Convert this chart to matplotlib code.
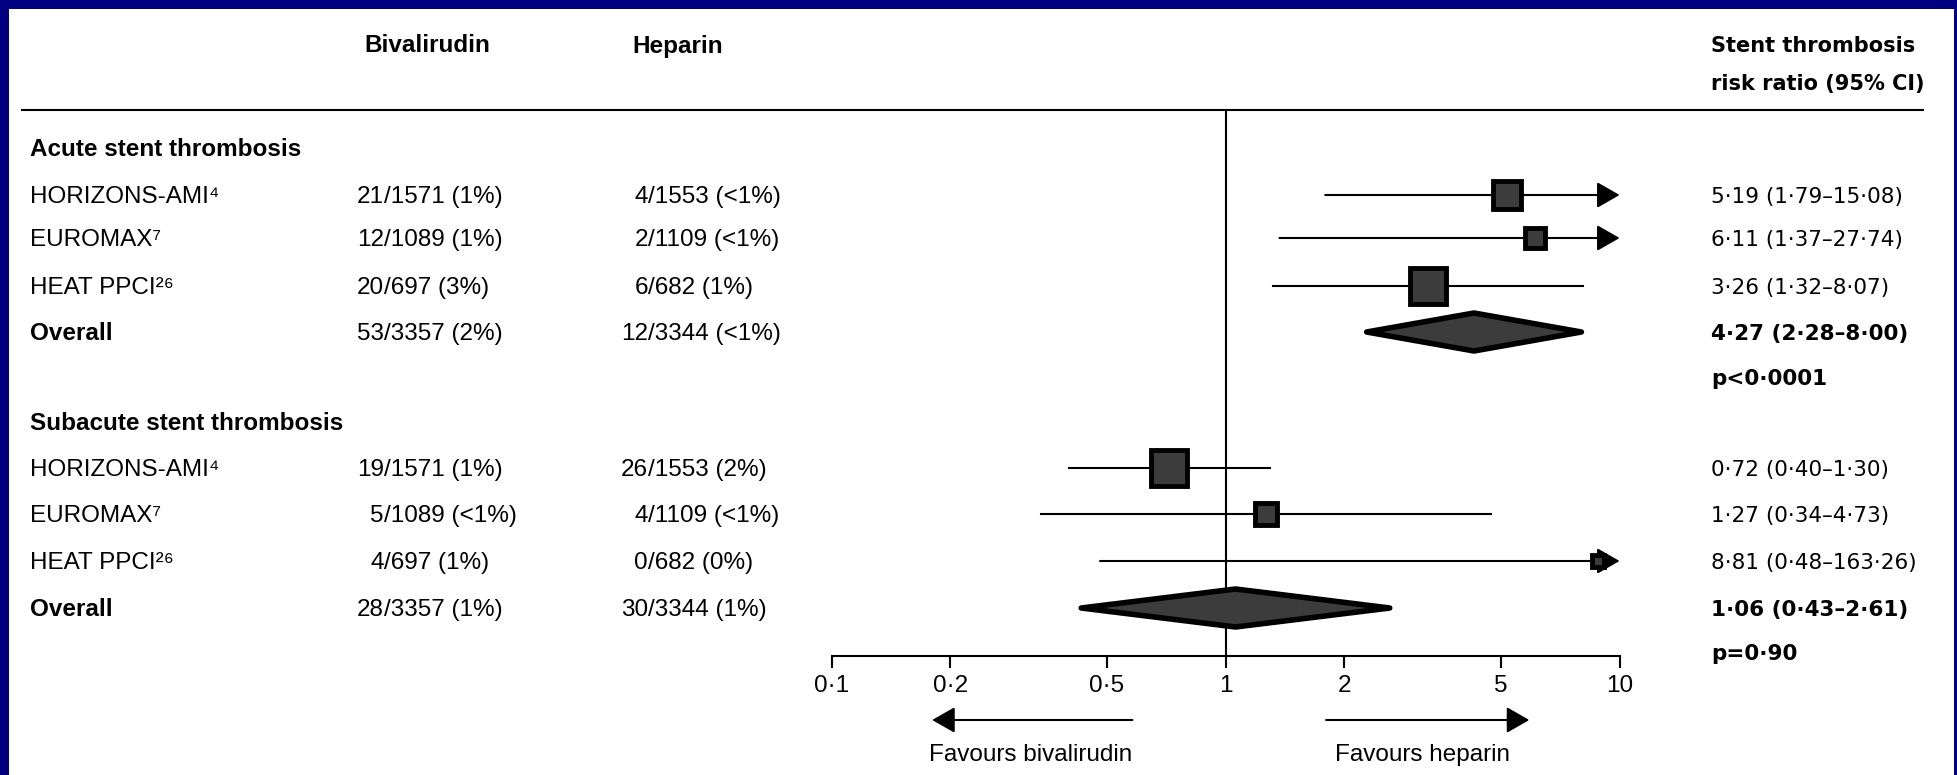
import matplotlib
matplotlib.use('Agg')
import matplotlib.pyplot as plt
import numpy as np
from matplotlib.patches import Rectangle, Polygon

plt.rcParams['font.family'] = ['Liberation Sans', 'DejaVu Sans']

W, H = 1958, 775

studies = ['HORIZONS-AMI⁴', 'EUROMAX⁷', 'HEAT PPCI²⁶']

# acute stent thrombosis (last entry = overall)
acute_biv_n = [21, 12, 20, 53]
acute_biv_tot = [1571, 1089, 697, 3357]
acute_hep_n = [4, 2, 6, 12]
acute_hep_tot = [1553, 1109, 682, 3344]
acute_rr = [5.19, 6.11, 3.26, 4.27]
acute_lo = [1.79, 1.37, 1.32, 2.28]
acute_hi = [15.08, 27.74, 8.07, 8.00]
acute_w = [32, 18, 50]
acute_p = 'p<0·0001'

# subacute stent thrombosis
sub_biv_n = [19, 5, 4, 28]
sub_biv_tot = [1571, 1089, 697, 3357]
sub_hep_n = [26, 4, 0, 30]
sub_hep_tot = [1553, 1109, 682, 3344]
sub_rr = [0.72, 1.27, 8.81, 1.06]
sub_lo = [0.40, 0.34, 0.48, 0.43]
sub_hi = [1.30, 4.73, 163.26, 2.61]
sub_w = [50, 20, 8]
sub_p = 'p=0·90'

ticks = [0.1, 0.2, 0.5, 1, 2, 5, 10]
tick_labels = ['0·1', '0·2', '0·5', '1', '2', '5', '10']


def pct(n, tot):
    p = 100 * n / tot
    if n == 0:
        return '0%'
    if round(p) < 1:
        return '<1%'
    return '%d%%' % round(p)


def dot(v):
    return ('%.2f' % v).replace('.', '·')


fig = plt.figure(figsize=(W / 100, H / 100), dpi=100)
fig.patch.set_facecolor('#000080')

tx = fig.add_axes([0, 0, 1, 1], zorder=0)
tx.set_xlim(0, W)
tx.set_ylim(H, 0)
tx.axis('off')
tx.add_patch(Rectangle((9, 9), 1945, H, facecolor='white', edgecolor='none'))

x0, x1, yaxis = 831.6, 1619.6, 656
ax = fig.add_axes([x0 / W, (H - yaxis) / H, (x1 - x0) / W, yaxis / H], zorder=1)
ax.patch.set_alpha(0)
ax.set_xscale('log')
ax.set_xlim(0.1, 10)
ax.set_ylim(yaxis, 0)
for s in ['top', 'right', 'left']:
    ax.spines[s].set_visible(False)
ax.spines['bottom'].set_linewidth(1.5)
ax.set_yticks([])
ax.set_xticks(ticks)
ax.set_xticklabels(tick_labels)
ax.minorticks_off()
ax.tick_params(axis='x', direction='out', length=8.6, width=1.5, pad=5, labelsize=17.5)

fs = 17.5
fs_r = 15.5
rfont = 'DejaVu Sans'
dy = 2  # small nudge so text sits on the row line like the original

# header
tx.text(364, 46, 'Bivalirudin', fontsize=fs, weight='bold', va='center')
tx.text(632, 46, 'Heparin', fontsize=fs, weight='bold', va='center')
tx.text(1711, 46, 'Stent thrombosis', fontsize=15, weight='bold', va='center', family=rfont)
tx.text(1711, 84, 'risk ratio (95% CI)', fontsize=15, weight='bold', va='center', family=rfont)
tx.plot([22, 1923], [110, 110], color='k', lw=1.5)

ax.plot([1, 1], [110, yaxis], color='k', lw=1.5)

box_face = '#3c3c3c'


def group(title, ty, rows, py, biv_n, biv_tot, hep_n, hep_tot, rr, lo, hi, w, ptxt):
    tx.text(30, ty + dy, title, fontsize=fs, weight='bold', va='center')
    for i in range(4):
        y = rows[i]
        last = i == 3
        name = 'Overall' if last else studies[i]
        tx.text(30, y + dy, name, fontsize=fs, weight='bold' if last else 'normal', va='center')
        # counts aligned on the slash
        tx.text(384, y + dy, str(biv_n[i]), fontsize=fs, ha='right', va='center')
        tx.text(384, y + dy, '/%d (%s)' % (biv_tot[i], pct(biv_n[i], biv_tot[i])), fontsize=fs,
                ha='left', va='center')
        tx.text(648, y + dy, str(hep_n[i]), fontsize=fs, ha='right', va='center')
        tx.text(648, y + dy, '/%d (%s)' % (hep_tot[i], pct(hep_n[i], hep_tot[i])), fontsize=fs,
                ha='left', va='center')
        tx.text(1711, y + dy, '%s (%s–%s)' % (dot(rr[i]), dot(lo[i]), dot(hi[i])), fontsize=fs_r,
                family=rfont, weight='bold' if last else 'normal', va='center')
        if last:
            hh = 19
            ax.add_patch(Polygon([(lo[i], y), (rr[i], y - hh), (hi[i], y), (rr[i], y + hh)],
                                 closed=True, facecolor=box_face, edgecolor='k', lw=4,
                                 joinstyle='round', zorder=3))
            continue
        if hi[i] > 10:
            ax.annotate('', xy=(10, y), xytext=(lo[i], y),
                        arrowprops=dict(arrowstyle='-|>,head_length=0.7,head_width=0.4',
                                        mutation_scale=20, lw=1.5, color='k',
                                        shrinkA=0, shrinkB=0), annotation_clip=False)
        else:
            ax.plot([lo[i], hi[i]], [y, y], color='k', lw=1.5)
        side = 5.8 * np.sqrt(w[i])
        ax.plot(rr[i], y, marker='s', markersize=side * 0.72 - 3.5, mfc=box_face, mec='k',
                mew=3.5, zorder=4)
    tx.text(1711, py + dy, ptxt, fontsize=fs_r, family=rfont, weight='bold', va='center')


group('Acute stent thrombosis', 147, [195, 238, 286, 332], 377,
      acute_biv_n, acute_biv_tot, acute_hep_n, acute_hep_tot,
      acute_rr, acute_lo, acute_hi, acute_w, acute_p)
group('Subacute stent thrombosis', 421, [468, 514, 561, 608], 652,
      sub_biv_n, sub_biv_tot, sub_hep_n, sub_hep_tot,
      sub_rr, sub_lo, sub_hi, sub_w, sub_p)

# favours arrows
arr = dict(arrowstyle='-|>,head_length=0.7,head_width=0.4', mutation_scale=20, lw=1.5,
           color='k', shrinkA=0, shrinkB=0)
ax.annotate('', xy=(0.18, 720), xytext=(0.58, 720), arrowprops=arr, annotation_clip=False)
ax.annotate('', xy=(5.9, 720), xytext=(1.8, 720), arrowprops=arr, annotation_clip=False)
tx.text(929, 755, 'Favours bivalirudin', fontsize=fs, va='center')
tx.text(1335, 755, 'Favours heparin', fontsize=fs, va='center')

fig.savefig('out.png', dpi=100, facecolor=fig.get_facecolor())
